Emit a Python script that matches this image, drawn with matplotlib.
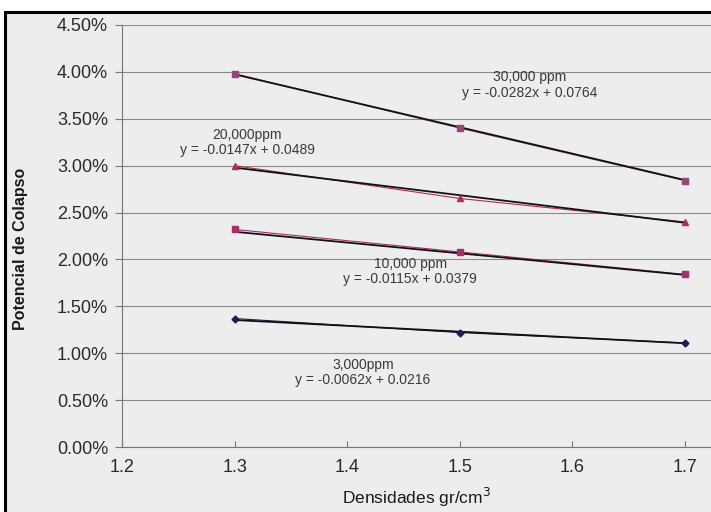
import numpy as np
import matplotlib
matplotlib.use("Agg")
import matplotlib.pyplot as plt
import matplotlib.ticker as tck
from matplotlib.patches import Rectangle

plt.rcParams.update({"font.family": ["Liberation Sans", "DejaVu Sans"]})

# densidades (gr/cm3)
densidad = [1.3, 1.5, 1.7]

# potencial de colapso, fraccion
ppm_3000 = [0.0137, 0.0122, 0.0111]
ppm_10000 = [0.0232, 0.0208, 0.0184]
ppm_20000 = [0.0300, 0.0265, 0.0240]
ppm_30000 = [0.0398, 0.0340, 0.0284]

# tendencias (de las ecuaciones del grafico)
slopes = [-0.0062, -0.0115, -0.0147, -0.0282]
intercepts = [0.0216, 0.0379, 0.0489, 0.0764]
labels = ["3,000ppm", "10,000 ppm", "20,000ppm", "30,000 ppm"]
label_pos = [(1.414, 0.0079), (1.456, 0.0187), (1.311, 0.0325), (1.562, 0.0386)]

series = [ppm_3000, ppm_10000, ppm_20000, ppm_30000]
colors = ["#1c1c4e", "#a3306a", "#b03048", "#94467a"]
markers = ["D", "s", "^", "s"]
msizes = [3.5, 4, 4.5, 4.5]

fig = plt.figure(figsize=(7.11, 5.12), dpi=100, facecolor="white")
# marco de la foto / area del grafico
fig.patches.append(Rectangle((5/711, -0.02), 1.05, 0.9766 + 0.02, transform=fig.transFigure,
                             facecolor="#ededed", edgecolor="black", linewidth=2.2, zorder=-10))

ax = fig.add_axes([122/711, 1 - 447/512, 1 - 122/711, (447 - 25)/512])
ax.set_facecolor("none")

for vals, c, m, ms in zip(series, colors, markers, msizes):
    ax.plot(densidad, vals, color=c, lw=0.8, zorder=3)
    ax.plot(densidad, vals, ls="none", marker=m, ms=ms, color=c, zorder=5)

xx = np.array([densidad[0], densidad[-1]])
for m, b in zip(slopes, intercepts):
    ax.plot(xx, m*xx + b, color="#111111", lw=1.3, zorder=4)

for lab, (px, py), m, b in zip(labels, label_pos, slopes, intercepts):
    txt = "{}\ny = {:.4f}x + {:.4f}".format(lab, m, b)
    ax.text(px, py, txt, ha="center", va="center", fontsize=10, color="#3a3a3a",
            linespacing=1.1, zorder=6)

ax.set_xlim(1.2, 1.723)
ax.set_ylim(0, 0.045)
ax.set_xticks([1.2, 1.3, 1.4, 1.5, 1.6, 1.7])
ax.set_xticklabels(["1.2", "1.3", "1.4", "1.5", "1.6", "1.7"])
ax.yaxis.set_major_locator(tck.MultipleLocator(0.005))
ax.yaxis.set_major_formatter(tck.PercentFormatter(xmax=1, decimals=2))
ax.grid(axis="y", color="#8a8a8a", lw=0.8)
ax.set_axisbelow(True)

for s in ["top", "right"]:
    ax.spines[s].set_visible(False)
ax.spines["left"].set_color("#777777")
ax.spines["bottom"].set_color("#777777")
ax.spines["left"].set_linewidth(0.8)
ax.spines["bottom"].set_linewidth(0.8)

ax.tick_params(axis="y", direction="out", length=5, color="#777777", labelsize=13,
               labelcolor="#2a2a2a", pad=5)
ax.tick_params(axis="x", direction="in", length=4, color="#777777", labelsize=13,
               labelcolor="#2a2a2a", pad=9)

ax.set_xlabel("Densidades gr/cm$^3$", fontsize=12.5, color="#1a1a1a", labelpad=7)
ax.set_ylabel("Potencial de Colapso", fontsize=11.5, fontweight="bold", color="#1a1a1a")
ax.yaxis.set_label_coords(-0.16, 0.47)

fig.savefig("out.png", dpi=100, facecolor=fig.get_facecolor())
